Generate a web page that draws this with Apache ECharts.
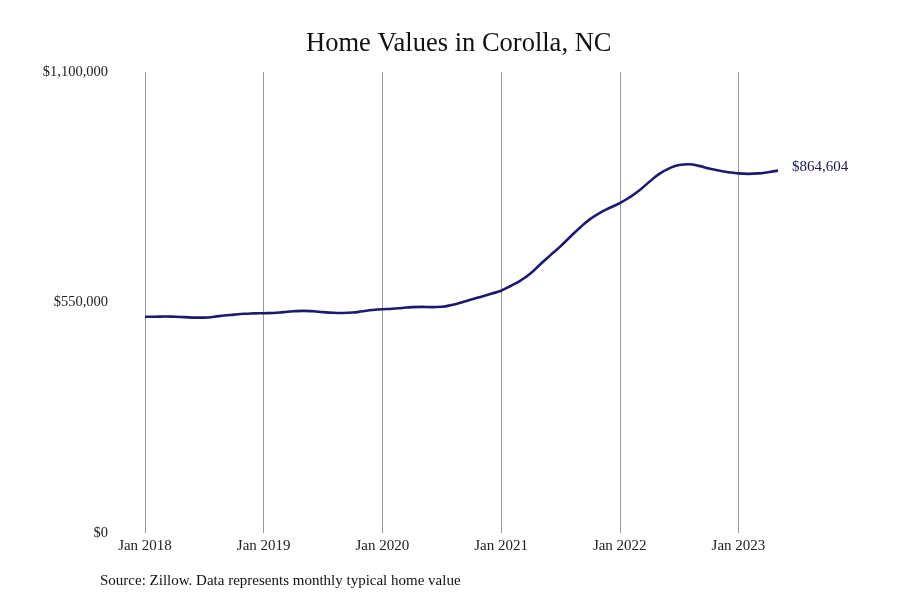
<!DOCTYPE html>
<html>
<head>
    <meta charset="utf-8">
    <title>Home Values in Corolla, NC</title>
    <script src="https://cdn.jsdelivr.net/npm/echarts@6/dist/echarts.min.js"></script>
    <style>
        html, body { margin: 0; padding: 0; background: #fff; }
        #main { width: 900px; height: 600px; }
    </style>
</head>
<body>
<div id="main"></div>
<script type="text/javascript">
    var years = [2018, 2019, 2020, 2021, 2022, 2023];
    var monthNames = ['Jan', 'Feb', 'Mar', 'Apr', 'May', 'Jun', 'Jul', 'Aug', 'Sep', 'Oct', 'Nov', 'Dec'];

    // typical home value per month, Jan 2018 .. May 2023
    var values2018 = [516000, 516000, 516500, 516000, 515000, 514000, 514000, 516000, 519000, 521000, 523000, 524000];
    var values2019 = [524500, 525000, 527000, 529000, 530000, 529000, 527000, 525500, 525000, 526000, 529000, 532000];
    var values2020 = [534000, 535000, 537000, 539000, 539500, 539000, 540000, 544000, 550000, 557000, 564000, 571000];
    var values2021 = [578000, 590000, 603000, 620000, 642000, 663000, 684000, 707000, 729000, 749000, 764000, 776000];
    var values2022 = [787000, 801000, 818000, 838000, 857000, 870000, 878000, 880000, 876000, 870000, 865000, 861000];
    var values2023 = [858000, 857000, 858000, 861000, 864604];

    var yTicks = [0, 550000, 1100000];

    var values = [].concat(values2018, values2019, values2020, values2021, values2022, values2023);
    var months = [];
    for (var i = 0; i < values.length; i++) {
        months.push(monthNames[i % 12] + ' ' + years[Math.floor(i / 12)]);
    }

    var font = '"Liberation Serif", "DejaVu Serif", serif';
    var isJan = function (index) { return index % 12 === 0; };
    var money = function (v) { return '$' + Math.round(v).toLocaleString('en-US'); };

    var myChart = echarts.init(document.getElementById('main'));
    var option = {
        backgroundColor: '#fff',
        animation: false,
        title: [
            {
                text: 'Home Values in Corolla, NC',
                left: 306,
                top: 31,
                padding: 0,
                textStyle: { fontFamily: font, fontSize: 26.5, fontWeight: 'normal', color: '#111' }
            },
            {
                text: 'Source: Zillow. Data represents monthly typical home value',
                left: 100,
                top: 574,
                padding: 0,
                textStyle: { fontFamily: font, fontSize: 15, fontWeight: 'normal', color: '#111' }
            }
        ],
        grid: { left: 145, right: 122, top: 72, bottom: 67, containLabel: false },
        xAxis: {
            type: 'category',
            data: months,
            boundaryGap: false,
            axisLine: { show: false },
            axisTick: { show: false },
            axisLabel: {
                interval: isJan,
                margin: 6,
                fontFamily: font,
                fontSize: 15,
                color: '#222'
            },
            splitLine: {
                show: true,
                interval: isJan,
                lineStyle: { color: '#999', width: 1 }
            }
        },
        yAxis: {
            type: 'value',
            min: yTicks[0],
            max: yTicks[2],
            interval: yTicks[1],
            axisLine: { show: false },
            axisTick: { show: false },
            splitLine: { show: false },
            axisLabel: {
                margin: 37,
                fontFamily: font,
                fontSize: 14.5,
                color: '#222',
                formatter: money
            }
        },
        series: [
            {
                type: 'line',
                data: values,
                smooth: 0.5,
                symbol: 'none',
                lineStyle: { color: '#1b1a6e', width: 2.6 },
                endLabel: {
                    show: true,
                    distance: 14,
                    offset: [0, -4],
                    fontFamily: font,
                    fontSize: 15,
                    color: '#1b1a4e',
                    formatter: function (p) { return money(p.value); }
                }
            }
        ]
    };
    myChart.setOption(option);
    window.onresize = myChart.resize;
</script>
</body>
</html>
